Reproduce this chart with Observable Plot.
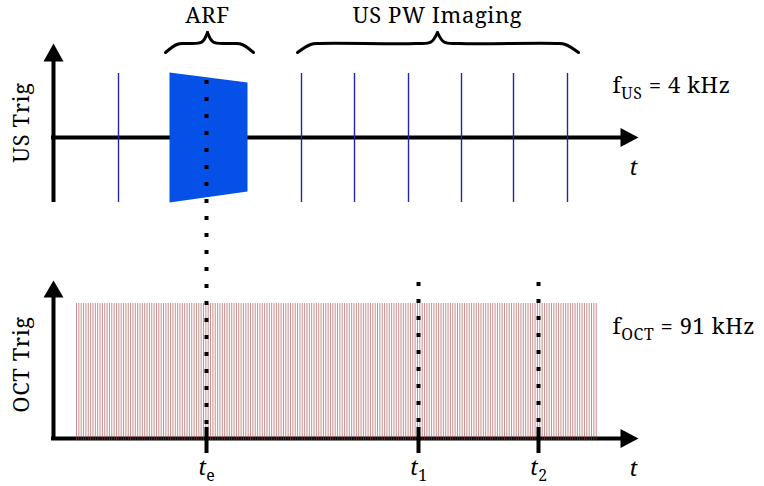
<!DOCTYPE html>
<html>
<head>
<meta charset="utf-8">
<script src="https://cdn.jsdelivr.net/npm/d3@7"></script>
<script src="https://cdn.jsdelivr.net/npm/@observablehq/plot@0.6"></script>
<style>
  html, body { margin: 0; padding: 0; background: #fff; }
</style>
</head>
<body>
<div id="chart"></div>
<script>
// ---- schematic data (time axis in drawing units, US period ≈ 53.5 units) ----
const fUS = 4;            // kHz
const fOCT = 91;          // kHz
const usPeriod = 53.5;    // time units per US period
const usPulses = [118, 301, 354, 408, 461, 513, 567];
const arfX = [169, 247];
const arfTop = [72, 82];
const arfBottom = [202, 191];
const octStart = 76;
const octEnd = 598;
const eventNames = ["t_{e}", "t_{1}", "t_{2}"];
const eventX = [206, 418, 538];
const eventDotTop = [80, 282, 282];
const braceNames = ["ARF", "US PW Imaging"];
const braceStart = [165, 297];
const braceEnd = [253, 578];
const braceTip = [207, 437];

// panel levels (vertical positions in drawing units)
const usBase = 137, usTop = 73, usBottom = 202;
const octBase = 438, octTop = 303;

const FONT = '"Noto Serif", "Liberation Serif", serif';

// OCT trigger train derived from the two frequencies
const octPeriod = usPeriod * fUS / fOCT;
const octTimes = d3.range(octStart, octEnd, octPeriod);

// brace geometry
function bracePts(i) {
  const x0 = braceStart[i], x1 = braceEnd[i], xm = braceTip[i];
  const yEnd = 52, yFlat = 43, yTip = 32, r = Math.min(22, (xm - x0) * 0.45);
  return [
    {x: x0, y: yEnd, z: i + "L"}, {x: x0 + r * 0.6, y: yFlat + 1, z: i + "L"}, {x: x0 + r, y: yFlat, z: i + "L"},
    {x: xm - r, y: yFlat, z: i + "L"}, {x: xm - r * 0.3, y: yFlat - 1.5, z: i + "L"}, {x: xm, y: yTip, z: i + "L"},
    {x: xm, y: yTip, z: i + "R"}, {x: xm + r * 0.3, y: yFlat - 1.5, z: i + "R"}, {x: xm + r, y: yFlat, z: i + "R"},
    {x: x1 - r, y: yFlat, z: i + "R"}, {x: x1 - r * 0.6, y: yFlat + 1, z: i + "R"}, {x: x1, y: yEnd, z: i + "R"}
  ];
}
const braces = [...bracePts(0), ...bracePts(1)];

const trapezoid = [
  {x: arfX[0], y: arfTop[0]}, {x: arfX[1], y: arfTop[1]},
  {x: arfX[1], y: arfBottom[1]}, {x: arfX[0], y: arfBottom[0]}
];

const axisX = 53, axisEnd = 638;
const arrowsH = [usBase, octBase].flatMap((b, k) => [
  {x: axisEnd, y: b, k}, {x: axisEnd - 18, y: b - 9.5, k}, {x: axisEnd - 18, y: b + 9.5, k}
]);
const arrowsV = [[43, 61], [280, 297]].flatMap(([tip, base], k) => [
  {x: axisX, y: tip, k}, {x: axisX - 10, y: base, k}, {x: axisX + 10, y: base, k}
]);

const events = eventNames.map((name, i) => ({name, x: eventX[i], top: eventDotTop[i]}));

const svg = Plot.plot({
  width: 764,
  height: 486,
  margin: 0,
  x: {domain: [0, 764], range: [0, 764], axis: null},
  y: {domain: [0, 486], range: [0, 486], axis: null},
  style: {background: "#fff", overflow: "visible", fontFamily: FONT},
  marks: [
    // axes
    Plot.ruleX([axisX], {y1: 58, y2: usBottom, stroke: "#000", strokeWidth: 4}),
    Plot.ruleY([usBase], {x1: axisX - 2, x2: axisEnd - 15, stroke: "#000", strokeWidth: 4}),
    Plot.ruleX([axisX], {y1: 294, y2: octBase + 2, stroke: "#000", strokeWidth: 4}),
    Plot.ruleY([octBase], {x1: axisX - 2, x2: axisEnd - 15, stroke: "#000", strokeWidth: 4}),
    Plot.line(arrowsH, {x: "x", y: "y", z: "k", fill: "#000", stroke: "none", curve: "linear-closed"}),
    Plot.line(arrowsV, {x: "x", y: "y", z: "k", fill: "#000", stroke: "none", curve: "linear-closed"}),

    // US pulses
    Plot.ruleX(usPulses, {y1: usTop, y2: usBottom, stroke: "#2424a6", strokeWidth: 1.4}),
    // ARF push
    Plot.line(trapezoid, {x: "x", y: "y", fill: "#0550e6", stroke: "none", curve: "linear-closed"}),

    // OCT triggers
    Plot.ruleX(octTimes, {y1: octTop, y2: octBase + 2, stroke: "#a04444", strokeOpacity: 0.6, strokeWidth: 1}),

    // braces
    Plot.line(braces, {x: "x", y: "y", z: "z", stroke: "#000", strokeWidth: 3, curve: "catmull-rom", strokeLinecap: "round"}),
    Plot.text(braceNames, {x: (d, i) => braceTip[i], y: 15, text: d => d, fontSize: 22, fill: "#000", fontFamily: FONT, className: "wide"}),

    // event dotted lines and ticks
    Plot.ruleX(events, {x: "x", y1: "top", y2: 424, stroke: "#000", strokeWidth: 4, strokeDasharray: "4,13"}),
    Plot.ruleX(events, {x: "x", y1: 427, y2: 453, stroke: "#000", strokeWidth: 4}),
    Plot.text(events, {x: "x", y: 467, text: "name", fontSize: 22, className: "mathlabel", fontFamily: FONT}),

    // t labels
    Plot.text([usBase + 30, octBase + 30], {x: 633, y: d => d, text: () => "t", fontSize: 22, fontStyle: "italic", fontFamily: FONT}),

    // frequency labels
    Plot.text(["f_{US} = " + fUS + " kHz", "f_{OCT} = " + fOCT + " kHz"], {
      x: 612, y: [85, 326], text: d => d, textAnchor: "start", fontSize: 22, className: "wide", fontFamily: FONT
    }),

    // panel labels
    Plot.text(["US Trig", "OCT Trig"], {x: 21, y: [122, 364], text: d => d, rotate: -90, fontSize: 22, fontFamily: FONT, className: "wide"})
  ]
});

// convert "a_{b}rest" into tspans with a subscript
d3.select(svg).selectAll("text").each(function () {
  const el = d3.select(this);
  const txt = this.textContent;
  const m = txt.match(/^(.*?)_\{(.*?)\}(.*)$/);
  if (!m) return;
  const isMath = this.closest(".mathlabel") != null;
  this.textContent = "";
  el.append("tspan").text(m[1]).attr("font-style", isMath ? "italic" : null);
  el.append("tspan").text(m[2]).attr("font-size", "72%").attr("dy", 6);
  if (m[3]) el.append("tspan").text(m[3]).attr("dy", -6);
});
d3.select(svg).selectAll(".wide text").attr("letter-spacing", "0.6px");

document.getElementById("chart").appendChild(svg);
</script>
</body>
</html>
